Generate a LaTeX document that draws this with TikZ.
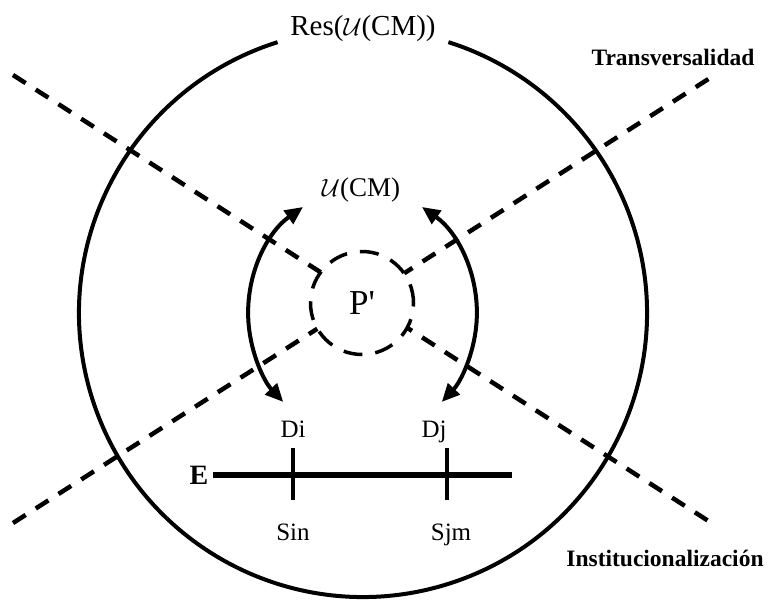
\documentclass[tikz,border=0pt]{standalone}
\usepackage{fontspec}
\setmainfont{Liberation Serif}
\usetikzlibrary{arrows.meta}
\begin{document}
\begin{tikzpicture}[x=1pt,y=-1pt,
  ring/.style={line width=4pt},
  diag/.style={line width=4.5pt, dash pattern=on 15pt off 12pt},
  arr/.style={line width=4pt, {Triangle[length=18pt,width=16pt]}-{Triangle[length=18pt,width=16pt]}},
  lbl/.style={font=\fontsize{25}{29}\selectfont, inner sep=0pt},
  titlelbl/.style={font=\fontsize{29}{33}\selectfont, inner sep=0pt},
  boldlbl/.style={font=\bfseries\fontsize{23.5}{27}\selectfont, inner sep=0pt},
  tick/.style={line width=3.5pt},
  axis/.style={line width=5.5pt}
]
\useasboundingbox (0,0) rectangle (770,599);
% big circle with gap for title
\coordinate (c) at (363,313);
\draw[ring] (c) ++(107.5:284pt) arc[start angle=107.5, end angle=432.5, radius=284pt];
\node[titlelbl] (res) at (363,29) {Res($\mathcal{U}$(CM))};
% diagonals
\coordinate (a1) at (13,75);
\coordinate (a2) at (710,522);
\coordinate (b1) at (13,523);
\coordinate (b2) at (710,78);
\draw[diag] (a1) -- (a2);
\draw[diag] (b1) -- (b2);
% P' circle
\node[circle, draw, fill=white, line width=3.5pt, dash pattern=on 19pt off 13pt,
      minimum size=103pt, inner sep=0pt, font=\fontsize{35}{39}\selectfont] (p) at (362,303) {P\textquotesingle};
% U(CM)
\node[font=\fontsize{27}{31}\selectfont, inner sep=0pt] (ucm) at (361,190) {$\mathcal{U}$(CM)};
% curved arrows
\coordinate (la) at (303,207);
\draw[arr] (la) arc[start angle=125.3, end angle=223.1, radius=130pt];
\coordinate (ra) at (422,207);
\draw[arr] (ra) arc[start angle=54.7, end angle=-43.1, radius=130pt];
% E axis
\node[font=\bfseries\fontsize{28}{32}\selectfont, inner sep=0pt] (e) at (199,475) {E};
\coordinate (e1) at (213,475);
\coordinate (e2) at (512,475);
\draw[axis] (e1) -- (e2);
\coordinate (t1a) at (293,448);
\coordinate (t1b) at (293,500);
\coordinate (t2a) at (447,448);
\coordinate (t2b) at (447,500);
\draw[tick] (t1a) -- (t1b);
\draw[tick] (t2a) -- (t2b);
\node[lbl, anchor=base] (di) at (293,437) {Di};
\node[lbl, anchor=base] (dj) at (434,437) {Dj};
\node[lbl, anchor=base] (sin) at (293,540) {Sin};
\node[lbl, anchor=base] (sjm) at (451,540) {Sjm};
% side labels
\node[boldlbl] (tr) at (673,57) {Transversalidad};
\node[boldlbl] (inst) at (665,558) {Institucionalización};
\end{tikzpicture}
\end{document}
